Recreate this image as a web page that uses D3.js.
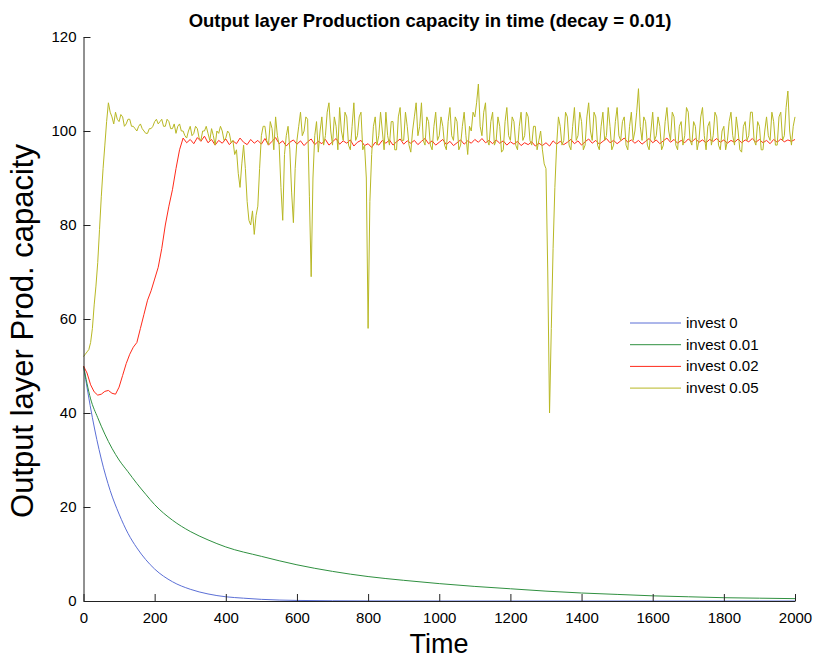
<!DOCTYPE html>
<html>
<head>
<meta charset="utf-8">
<script src="https://cdn.jsdelivr.net/npm/d3@7"></script>
<style>
  body { margin: 0; background: #fff; }
  text { font-family: "Liberation Sans", Arial, Helvetica, sans-serif; fill: #000; }
</style>
</head>
<body>
<script>
//////////////// Datas ////////////////////
var seriesNames = ["invest 0", "invest 0.01", "invest 0.02", "invest 0.05"];
var seriesColors = ["#5b6fd6", "#2f9040", "#ff2a1a", "#b8b824"];

var xTicks = [0, 200, 400, 600, 800, 1000, 1200, 1400, 1600, 1800, 2000];
var yTicks = [0, 20, 40, 60, 80, 100, 120];

// invest 0 (smooth decay)
var timeBlue = [0, 25, 50, 75, 100, 125, 150, 175, 200, 250, 300, 350, 400, 450, 500, 600, 700, 800, 1000, 1200, 1400, 1600, 1800, 2000];
var valBlue  = [50, 39, 30.2, 23.5, 18.5, 14.4, 11.3, 8.8, 6.8, 4.1, 2.5, 1.5, 0.9, 0.6, 0.35, 0.12, 0.05, 0.02, 0, 0, 0, 0, 0, 0];

// invest 0.01
var timeGreen = [0, 20, 40, 60, 80, 100, 125, 150, 175, 200, 250, 300, 350, 400, 500, 600, 700, 800, 900, 1000, 1100, 1200, 1300, 1400, 1500, 1600, 1700, 1800, 1900, 2000];
var valGreen  = [50, 43, 39, 35.5, 32.5, 30, 27.5, 25, 22.7, 20.5, 17.2, 14.8, 13, 11.5, 9.5, 7.7, 6.3, 5.2, 4.4, 3.7, 3.1, 2.6, 2.1, 1.7, 1.4, 1.1, 0.9, 0.7, 0.6, 0.5];

// invest 0.02, one value every 10 time steps (t = 0 .. 2000)
var redStep = 10;
var valRed = [
  50, 48.5, 46, 44.5, 43.8, 44, 44.6, 44.8, 44.2, 44,
  45.5, 48, 50.5, 52.5, 54, 55, 58, 61, 64, 66,
  68.5, 71, 75, 80, 84, 87.5, 92, 96, 98.5, 97.5,
  98.2, 97.3, 98.6, 97.8, 98.9, 97.5, 98.2, 97, 98, 97.4,
  98.3, 97.1, 97.9, 97.3, 98.5, 97.6, 97.1, 98.2, 97.4, 98,
  97.2, 98.4, 97, 97.8, 98.6, 97.3, 97.9, 96.8, 97.6, 98.1,
  97.2, 97.9, 96.9, 97.7, 98.3, 97.1, 97.8, 97.3, 98.2, 97,
  97.7, 98.4, 97.2, 97.9, 97.4, 98.1, 96.8, 97.6, 98, 96.9,
  97.3, 96.5, 97.6, 97, 98, 97.4, 98.1, 97, 97.7, 98.3,
  97.2, 97.9, 97.4, 98, 97.1, 97.8, 98.4, 97.3, 97.9, 97,
  97.6, 98.2, 97.1, 97.8, 96.9, 97.5, 98.1, 97.2, 97.9, 97.4,
  98.2, 97.6, 98.4, 97.5, 98, 97.3, 98.1, 97.4, 97.9, 97,
  97.7, 97.2, 97.8, 96.9, 97.5, 97.1, 97.7, 96.8, 97.4, 96.9,
  97.5, 96.8, 97.9, 97.2, 97.8, 97.1, 97.6, 98.2, 97.3, 97.9,
  97, 97.7, 98.3, 97.4, 98, 97.2, 97.8, 98.4, 97.5, 98,
  97.3, 97.9, 98.5, 97.6, 98.1, 97.4, 98, 97.2, 97.8, 98.4,
  97.5, 98.1, 97.3, 97.9, 98.5, 97.6, 98.2, 97.4, 98, 97.5,
  98.3, 97.7, 98.4, 97.6, 98.1, 97.5, 98.2, 97.8, 98.4, 97.6,
  98.1, 97.4, 98, 97.6, 98.3, 97.5, 98.1, 97.7, 98.4, 97.6,
  98.2, 97.5, 98, 97.3, 98.2, 97.6, 98.3, 97.7, 98.1, 97.8,
  98.2
];

// invest 0.05, one value every 5 time steps (t = 0 .. 2000)
var yellowStep = 5;
var valYellow = [
  52, 52.5, 53, 53.5, 55, 58, 63, 67, 72, 79,
  86, 92, 97, 102, 106, 104, 103, 101.5, 104, 102.5,
  102, 103.5, 103, 101, 101.5, 102.5, 102.5, 101, 101, 100.5,
  100, 101, 101.5, 100.5, 100, 99.5, 99.5, 100.5, 100.5, 101,
  102, 102.5, 101.5, 102, 102.5, 101, 101, 102.5, 102, 100.5,
  100.5, 101.5, 99.5, 101, 101.5, 100, 100, 99, 98.5, 100,
  101, 99, 99.5, 101, 100.5, 98.5, 98, 100, 100, 101,
  99.5, 98, 100.5, 99, 97, 100, 99.5, 101, 100, 98,
  98.5, 100, 99.5, 97.5, 98, 95, 96, 91, 88, 93,
  97, 92, 85, 81, 80, 83, 78, 82, 84, 92,
  99, 101, 101, 98, 97, 102, 100.5, 96, 103, 99,
  97, 88, 81, 95, 99, 101, 96, 87, 80.5, 92,
  98, 101, 104, 99, 100, 103, 102.5, 86, 69, 90,
  99, 102, 95.5, 100, 103, 97, 99, 104, 106, 100,
  97, 103, 101, 96, 105, 100, 98, 104, 103, 97,
  96, 101, 106, 98, 99, 103, 104, 96, 97, 90,
  58, 85, 95, 101, 103, 97, 99, 104, 100, 96,
  104, 99, 97, 102, 102, 96, 96, 103, 105, 98,
  98, 104, 101, 97, 95.5, 100, 103, 106, 99, 101,
  106, 98, 97, 103, 102, 97, 96, 101, 104, 98,
  99, 103, 101, 97, 96, 102, 105, 99, 98, 103,
  102, 96, 97, 101, 104, 99, 95, 101, 100, 104,
  103, 106, 110, 101, 99, 104, 106, 98, 97, 102,
  104, 97, 98, 103, 101, 95.5, 96, 102, 105, 99,
  98, 103, 102, 97, 96, 101, 104, 98, 99, 104,
  103, 98, 97, 101, 101, 96, 98, 100, 96, 93,
  92, 70, 40, 58, 75, 88, 97, 103, 101, 97,
  98, 104, 103, 97, 96, 101, 105, 98, 99, 104,
  102, 96, 97, 103, 106, 100, 98, 104, 103, 97,
  96, 101, 104, 98, 99, 105, 101, 96, 97, 102,
  105, 99, 98, 102, 103, 97, 96, 101, 104, 98,
  100, 104, 109, 101, 98, 103, 102, 97, 96, 100,
  104, 98, 99, 103, 101, 96, 97, 102, 105, 100,
  98, 104, 103, 97, 96, 101, 102, 97, 99, 105,
  104, 98, 97, 102, 101, 96, 98, 103, 105, 99,
  96, 101, 102, 97, 99, 104, 103, 97, 96, 100,
  101, 96, 98, 102, 104, 99, 97, 103, 100, 96,
  95.5, 101, 102, 98, 99, 104, 104, 98, 97, 102,
  101, 96, 96, 100, 103, 99, 98, 104, 102, 97,
  97, 103, 104, 98, 99, 105, 108.5, 100, 97, 101,
  103
];

//////////////// SVG ////////////////////
var width = 814, height = 661;
var margin = {left: 83.5, right: 19, top: 37, bottom: 60};
var w = width - margin.left - margin.right;
var h = height - margin.top - margin.bottom;

var svg = d3.select("body")
  .append("svg")
  .attr("width", width)
  .attr("height", height);

var g = svg.append("g")
  .attr("transform", "translate(" + margin.left + "," + margin.top + ")");

////////////////// Scaling ////////////
var xScale = d3.scaleLinear().domain([0, 2000]).range([0, w]);
var yScale = d3.scaleLinear().domain([0, 120]).range([h, 0]);

//////////////// Lines ////////////////
function toPoints(times, vals) {
  return vals.map(function(v, i) { return {t: times[i], v: v}; });
}
function stepPoints(vals, step) {
  return vals.map(function(v, i) { return {t: i * step, v: v}; });
}

var series = [
  toPoints(timeBlue, valBlue),
  toPoints(timeGreen, valGreen),
  stepPoints(valRed, redStep),
  stepPoints(valYellow, yellowStep)
];

var smoothLine = d3.line()
  .x(function(d) { return xScale(d.t); })
  .y(function(d) { return yScale(d.v); })
  .curve(d3.curveMonotoneX);
var rawLine = d3.line()
  .x(function(d) { return xScale(d.t); })
  .y(function(d) { return yScale(d.v); });

// draw order: blue, green, red, yellow (yellow on top)
series.forEach(function(s, i) {
  g.append("path")
    .datum(s)
    .attr("fill", "none")
    .attr("stroke", seriesColors[i])
    .attr("stroke-width", 1)
    .attr("stroke-linejoin", "round")
    .attr("d", i < 2 ? smoothLine : rawLine);
});

//////////// Axen /////////////
var xAxis = d3.axisBottom(xScale)
  .tickValues(xTicks)
  .tickSizeInner(-7)
  .tickSizeOuter(0)
  .tickPadding(11)
  .tickFormat(d3.format("d"));
var yAxis = d3.axisLeft(yScale)
  .tickValues(yTicks)
  .tickSizeInner(-7)
  .tickSizeOuter(0)
  .tickPadding(7)
  .tickFormat(d3.format("d"));

var gx = g.append("g")
  .attr("transform", "translate(0," + h + ")")
  .call(xAxis);
var gy = g.append("g").call(yAxis);

[gx, gy].forEach(function(a) {
  a.select(".domain").attr("stroke", "#222");
  a.selectAll(".tick line").attr("stroke", "#222");
  a.selectAll("text")
    .style("font-size", "15px")
    .style("font-family", "'Liberation Sans', Arial, sans-serif")
    .attr("fill", "#000");
});

//////////// Titles /////////////
svg.append("text")
  .attr("x", 430)
  .attr("y", 27)
  .attr("text-anchor", "middle")
  .style("font-size", "18.5px")
  .style("font-weight", "bold")
  .text("Output layer Production capacity in time (decay = 0.01)");

svg.append("text")
  .attr("x", 439)
  .attr("y", 653)
  .attr("text-anchor", "middle")
  .style("font-size", "27px")
  .text("Time");

svg.append("text")
  .attr("transform", "translate(33,331) rotate(-90)")
  .attr("text-anchor", "middle")
  .style("font-size", "31px")
  .text("Output layer Prod. capacity");

//////////// Legend /////////////
var legend = svg.append("g")
  .attr("transform", "translate(630,323)");
seriesNames.forEach(function(name, i) {
  var row = legend.append("g")
    .attr("transform", "translate(0," + (i * 21.7) + ")");
  row.append("line")
    .attr("x1", 0).attr("x2", 51)
    .attr("y1", 0).attr("y2", 0)
    .attr("stroke", seriesColors[i])
    .attr("stroke-width", 1);
  row.append("text")
    .attr("x", 56)
    .attr("y", 5)
    .style("font-size", "15px")
    .text(name);
});
</script>
</body>
</html>
